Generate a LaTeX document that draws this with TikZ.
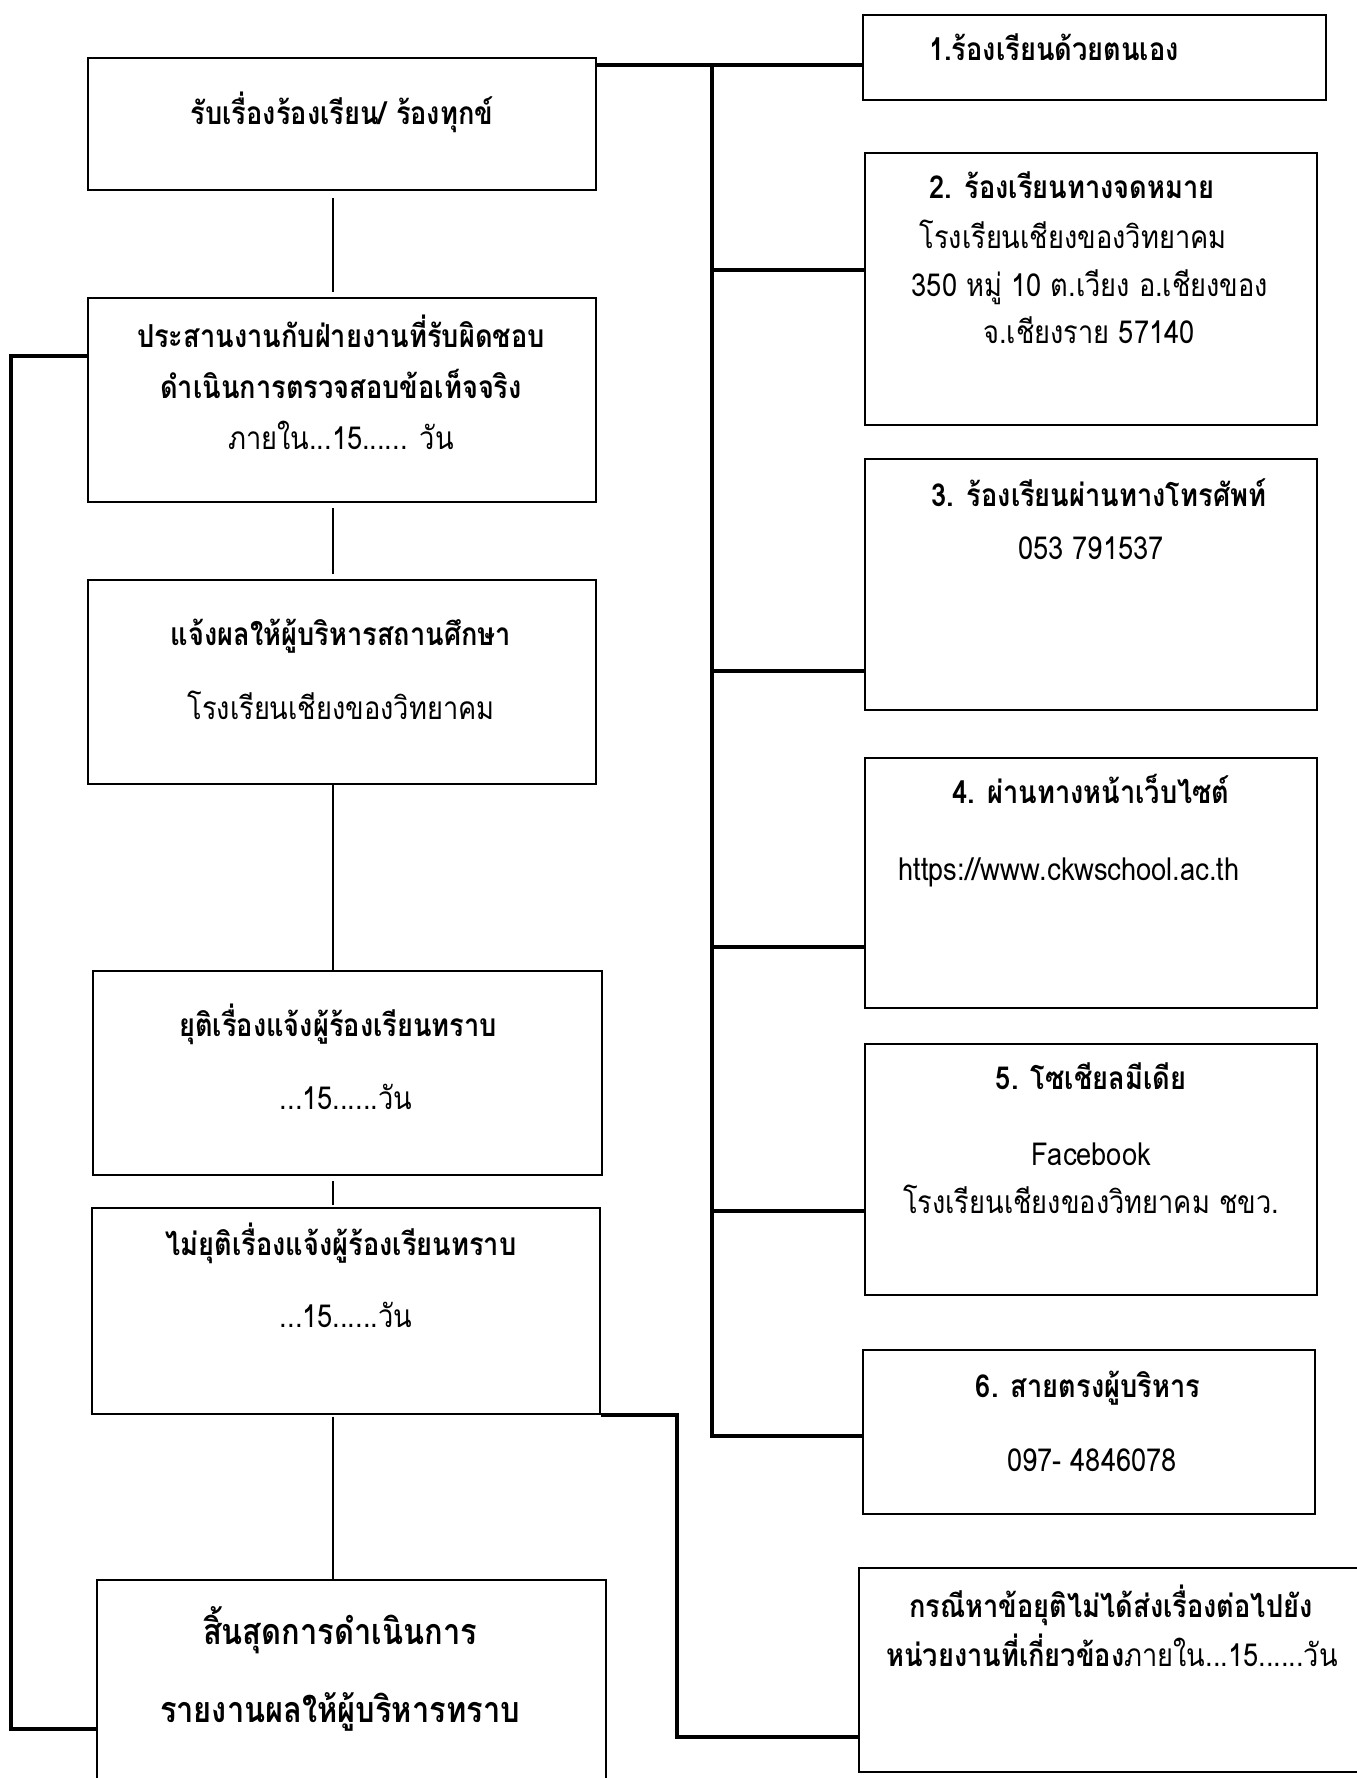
\documentclass[tikz,border=0pt]{standalone}
\usepackage{fontspec}
\setmainfont[Script=Thai, FakeStretch=0.86]{Loma}
\usetikzlibrary{calc}

\begin{document}
\begin{tikzpicture}[x=0.01cm, y=-0.01cm, font=\fontsize{9}{12}\selectfont,
	box/.style={draw, line width=0.5pt, inner sep=0pt, anchor=north west},
	link/.style={line width=0.75pt},
	trunk/.style={line width=1pt},
	txt/.style={anchor=mid, inner sep=0pt},
	head/.style={txt, font=\fontsize{9}{12}\selectfont\bfseries},
	bighead/.style={txt, font=\fontsize{10.2}{13}\selectfont\bfseries}]

	\clip (0,0) rectangle (1357,1778);

	\def \spine{333};
	\def \trunkx{712};

	% left column
	\node[box, minimum width=5.08cm, minimum height=1.32cm] (rub) at (87,57) {};
	\node[box, minimum width=5.08cm, minimum height=2.04cm] (prasan) at (87,297) {};
	\node[box, minimum width=5.08cm, minimum height=2.04cm] (jaeng) at (87,579) {};
	\node[box, minimum width=5.09cm, minimum height=2.04cm] (yuti) at (92,970) {};
	\node[box, minimum width=5.08cm, minimum height=2.06cm] (maiyuti) at (91,1207) {};
	\node[box, minimum width=5.09cm, minimum height=2.40cm] (sinsut) at (96,1579) {};

	\node[head] (t1) at (342,115) {รับเรื่องร้องเรียน/ ร้องทุกข์};
	\node[head] (t2a) at (341,338) {ประสานงานกับฝ่ายงานที่รับผิดชอบ};
	\node[head] (t2b) at (341,389) {ดำเนินการตรวจสอบข้อเท็จจริง};
	\node[txt] (t2c) at (341,440) {ภายใน...15...... วัน};
	\node[head] (t3a) at (341,636) {แจ้งผลให้ผู้บริหารสถานศึกษา};
	\node[txt] (t3b) at (341,710) {โรงเรียนเชียงของวิทยาคม};
	\node[head] (t4a) at (338,1027) {ยุติเรื่องแจ้งผู้ร้องเรียนทราบ};
	\node[txt] (t4b) at (346,1100) {...15......วัน};
	\node[head] (t5a) at (341,1246) {ไม่ยุติเรื่องแจ้งผู้ร้องเรียนทราบ};
	\node[txt] (t5b) at (346,1318) {...15......วัน};
	\node[bighead] (t6a) at (340,1635) {สิ้นสุดการดำเนินการ};
	\node[bighead] (t6b) at (340,1713) {รายงานผลให้ผู้บริหารทราบ};

	% right column
	\node[box, minimum width=4.63cm, minimum height=0.85cm] (r1) at (862,14) {};
	\node[box, minimum width=4.52cm, minimum height=2.72cm] (r2) at (864,152) {};
	\node[box, minimum width=4.52cm, minimum height=2.51cm] (r3) at (864,458) {};
	\node[box, minimum width=4.52cm, minimum height=2.50cm] (r4) at (864,757) {};
	\node[box, minimum width=4.52cm, minimum height=2.51cm] (r5) at (864,1043) {};
	\node[box, minimum width=4.52cm, minimum height=1.64cm] (r6) at (862,1349) {};
	\node[box, minimum width=5.40cm, minimum height=2.04cm] (r7) at (858,1567) {};

	\node[head] (s1) at (1054,51) {1.ร้องเรียนด้วยตนเอง};
	\node[head] (s2a) at (1072,189) {2. ร้องเรียนทางจดหมาย};
	\node[txt] (s2b) at (1073,239) {โรงเรียนเชียงของวิทยาคม};
	\node[txt] (s2c) at (1090,287) {350 หมู่ 10 ต.เวียง อ.เชียงของ};
	\node[txt] (s2d) at (1089,334) {จ.เชียงราย 57140};
	\node[head] (s3a) at (1099,497) {3. ร้องเรียนผ่านทางโทรศัพท์};
	\node[txt] (s3b) at (1091,550) {053 791537};
	\node[head] (s4a) at (1091,794) {4. ผ่านทางหน้าเว็บไซต์};
	\node[txt] (s4b) at (1069,871) {https://www.ckwschool.ac.th};
	\node[head] (s5a) at (1091,1080) {5. โซเชียลมีเดีย};
	\node[txt] (s5b) at (1091,1156) {Facebook};
	\node[txt] (s5c) at (1091,1204) {โรงเรียนเชียงของวิทยาคม ชขว.};
	\node[head] (s6a) at (1088,1388) {6. สายตรงผู้บริหาร};
	\node[txt] (s6b) at (1092,1462) {097- 4846078};
	\node[head] (s7a) at (1111,1608) {กรณีหาข้อยุติไม่ได้ส่งเรื่องต่อไปยัง};
	\node[txt] (s7b) at (1112,1657) {\textbf{หน่วยงานที่เกี่ยวข้อง}ภายใน...15......วัน};

	% flow down the left
	\coordinate (sp) at (\spine,0);
	\draw[link, shorten <=2pt, shorten >=1.5pt] (rub.south -| sp) -- (prasan.north -| sp);
	\draw[link, shorten <=1.5pt, shorten >=1.5pt] (prasan.south -| sp) -- (jaeng.north -| sp);
	\draw[link] (jaeng.south -| sp) -- (yuti.north -| sp);
	\draw[link, shorten <=1.5pt, shorten >=0.5pt] (yuti.south -| sp) -- (maiyuti.north -| sp);
	\draw[link, shorten <=0.5pt] (maiyuti.south -| sp) -- (sinsut.north -| sp);

	% loop on the left
	\coordinate (lp) at (11,356);
	\coordinate (lq) at (11,1729);
	\draw[trunk] (prasan.west |- lp) -- (lp) -- (lq) -- (lq -| sinsut.west);

	% loop to the case box
	\coordinate (rp) at (677,1737);
	\draw[trunk] (maiyuti.south east) -| (rp) -- (rp -| r7.west);

	% channels
	\coordinate (tr) at (\trunkx,65);
	\coordinate (tb) at (\trunkx,1436);
	\draw[trunk] (rub.east |- tr) -- (r1.west |- tr);
	\draw[trunk] (tr) -- (tb) -- (tb -| r6.west);
	\foreach \r/\y in {r2/270, r3/671, r4/947, r5/1211}
	{
		\coordinate (j\r) at (\trunkx,\y);
		\draw[trunk] (j\r) -- (j\r -| \r.west);
	}

\end{tikzpicture}
\end{document}
